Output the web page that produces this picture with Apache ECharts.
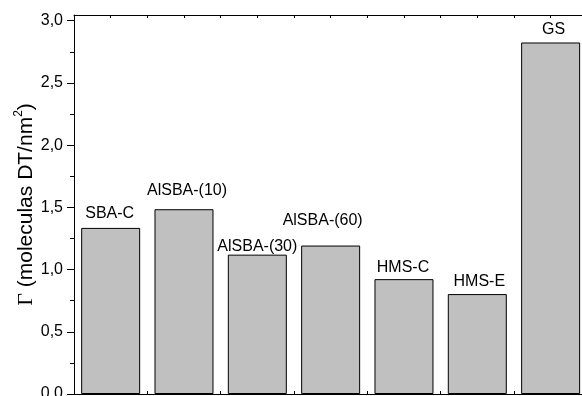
<!DOCTYPE html>
<html>
<head>
<meta charset="utf-8">
<script src="https://cdn.jsdelivr.net/npm/echarts@6/dist/echarts.min.js"></script>
<style>html,body{margin:0;padding:0;background:#fff}#c{width:582px;height:396px}</style>
</head>
<body>
<div id="c"></div>
<script>
const categories = ['SBA-C', 'AlSBA-(10)', 'AlSBA-(30)', 'AlSBA-(60)', 'HMS-C', 'HMS-E', 'GS'];
const values = [1.335, 1.485, 1.12, 1.193, 0.923, 0.803, 2.825];
const yMajorTicks = [0, 0.5, 1.0, 1.5, 2.0, 2.5, 3.0];
const yMax = 3.046;

// label placement styling (pixels), kept apart from data
const labelStyle = [
  { dx: -1, dist: 6 },
  { dx: 3, dist: 11 },
  { dx: 0, dist: 0 },
  { dx: -8, dist: 17 },
  { dx: -1, dist: 4 },
  { dx: 2, dist: 4 },
  { dx: 3, dist: 5 }
];

const FONT = 'Liberation Sans, Arial, sans-serif';
const chart = echarts.init(document.getElementById('c'), null, { renderer: 'canvas' });

chart.setOption({
  animation: false,
  grid: [
    { left: 74, right: -2, top: 15, bottom: 2, containLabel: false, outerBoundsMode: 'none' },
    { left: 74, right: -2, top: 15, height: 10, containLabel: false, outerBoundsMode: 'none' }
  ],
  xAxis: [
    {
      gridIndex: 0, type: 'value', position: 'bottom', min: 0.5, max: 7.455, interval: 0.5,
      axisLine: { show: true, onZero: false, lineStyle: { color: '#000', width: 1 } },
      axisTick: { show: true, inside: true, length: 3, lineStyle: { color: '#000' } },
      axisLabel: { show: true, color: 'rgba(0,0,0,0)' },
      splitLine: { show: false }
    },
    {
      gridIndex: 1, type: 'value', position: 'top', min: 0.5, max: 7.455, interval: 0.5,
      axisLine: { show: true, onZero: false, lineStyle: { color: '#000', width: 1 } },
      axisTick: { show: true, inside: true, length: 3, lineStyle: { color: '#000' } },
      axisLabel: { show: true, color: 'rgba(0,0,0,0)' },
      splitLine: { show: false }
    }
  ],
  yAxis: [
    {
      gridIndex: 0, type: 'value', min: 0, max: yMax,
      axisLine: { show: true, onZero: false, lineStyle: { color: '#000', width: 1 } },
      axisTick: { show: true, inside: false, length: 7, customValues: yMajorTicks, lineStyle: { color: '#000' } },
      minorTick: { show: true, splitNumber: 2, length: 4, lineStyle: { color: '#000' } },
      axisLabel: {
        show: true, customValues: yMajorTicks, margin: 11,
        color: '#000', fontSize: 16, fontFamily: FONT,
        formatter: v => v.toFixed(1).replace('.', ',')
      },
      splitLine: { show: false },
      name: '{g|Γ} (moleculas DT/nm{sup|2})',
      nameLocation: 'middle', nameRotate: 90, nameGap: 34, nameMoveOverlap: false,
      nameTextStyle: {
        color: '#000', fontSize: 21, fontFamily: FONT, lineHeight: 27,
        rich: {
          g: { fontFamily: 'Liberation Serif, Times New Roman, serif', fontSize: 22, color: '#000', lineHeight: 27 },
          sup: { fontSize: 12, color: '#000', verticalAlign: 'top', lineHeight: 27 }
        }
      }
    },
    {
      gridIndex: 1, type: 'value', min: 0, max: 1, show: false
    }
  ],
  series: [{
    type: 'bar',
    xAxisIndex: 0, yAxisIndex: 0,
    barWidth: 59,
    itemStyle: { color: '#c0c0c0', borderColor: '#000', borderWidth: 1 },
    markLine: {
      silent: true, symbol: ['none', 'none'], label: { show: false },
      lineStyle: { color: '#000', width: 1, type: 'solid' },
      data: [{ yAxis: yMax }]
    },
    data: values.map((v, i) => ({
      value: [i + 1, v],
      label: {
        show: true, position: 'top', distance: labelStyle[i].dist,
        offset: [labelStyle[i].dx, 0],
        formatter: categories[i],
        color: '#000', fontSize: 16, fontFamily: FONT
      }
    }))
  }]
});
</script>
</body>
</html>
